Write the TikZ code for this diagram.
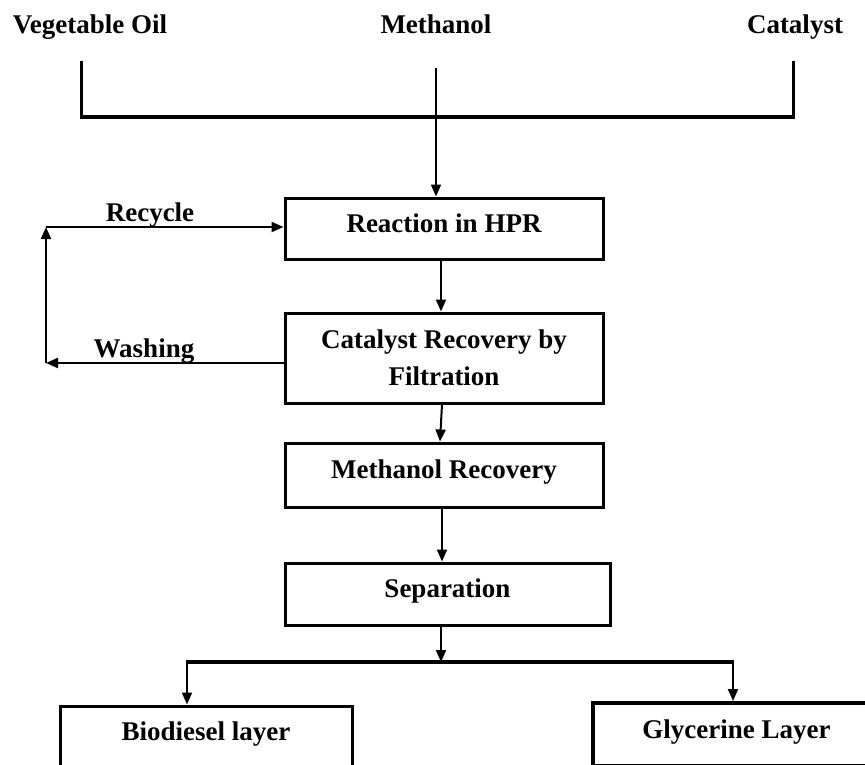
\documentclass[tikz,border=0pt]{standalone}
\usepackage{fontspec}
\setmainfont{Liberation Serif}
\usetikzlibrary{arrows.meta}
\begin{document}
\begin{tikzpicture}[x=1pt,y=-1pt,
  every node/.style={font=\fontsize{27}{37}\selectfont\bfseries},
  box/.style={draw,line width=3pt,inner sep=0pt},
  arr/.style={line width=2pt,-{Triangle[length=12pt,width=10pt]}},
  thick line/.style={line width=3pt},
  bar/.style={line width=4pt}]
\useasboundingbox (0,0) rectangle (865,765);
% top labels
\node[anchor=base] (veg) at (90,34) {Vegetable Oil};
\node[anchor=base] (meth) at (436,34) {Methanol};
\node[anchor=base] (cata) at (795,34) {Catalyst};
% boxes
\node[box,minimum width=318pt,minimum height=61pt,text height=14pt,text depth=7pt] (hpr) at (444,228.5) {Reaction in HPR};
\node[box,minimum width=318pt,minimum height=90pt,align=center] (cat) at (444,358) {Catalyst Recovery by\\Filtration};
\node[box,minimum width=318pt,minimum height=64pt,text height=14pt,text depth=8pt] (mr) at (444,475) {Methanol Recovery};
\node[box,minimum width=325pt,minimum height=62pt,text height=14pt,text depth=8pt] (sep) at (447.5,594) {Separation};
\node[box,minimum width=292pt,minimum height=94pt,text height=8pt,text depth=34pt] (bio) at (206,753) {Biodiesel layer};
\node[box,line width=4pt,minimum width=287pt,minimum height=63pt,text height=14pt,text depth=7pt] (gly) at (736.5,734.5) {Glycerine Layer};
% coordinates
\coordinate (vl) at (81,61);
\coordinate (vr) at (793,61);
\coordinate (bl) at (81,117);
\coordinate (br) at (793,117);
\coordinate (mtop) at (436,68);
\coordinate (ax) at (441,0);
\coordinate (split) at (441,662);
\coordinate (sl) at (187,662);
\coordinate (sr) at (733,662);
\coordinate (lw) at (46,363);
\coordinate (lr) at (46,227);
% top bracket
\draw[thick line] (vl) -- (bl);
\draw[thick line] (vr) -- (br);
\draw[bar] ([xshift=-1.5pt]bl) -- ([xshift=1.5pt]br);
\draw[arr] (mtop) -- (mtop |- hpr.north);
% main chain
\draw[arr] (hpr.south -| ax) -- (cat.north -| ax);
\draw[arr] ([xshift=1pt]cat.south -| ax) -- ([xshift=-1pt]mr.north -| ax);
\draw[arr] ([xshift=1pt]mr.south -| ax) -- ([xshift=1pt]sep.north -| ax);
\draw[arr] (sep.south -| ax) -- (split);
% split
\draw[bar] ([xshift=-1pt]sl) -- ([xshift=1pt]sr);
\draw[arr] (sl) -- (sl |- bio.north);
\draw[arr] (sr) -- (sr |- gly.north);
% loop
\draw[arr] (cat.west |- lw) -- (lw);
\draw[arr] (lw) -- (lr);
\draw[arr] (lr) -- (lr -| hpr.west);
\node[anchor=base] (rec) at (150,222) {Recycle};
\node[anchor=base] (wash) at (144,357) {Washing};
\end{tikzpicture}
\end{document}
